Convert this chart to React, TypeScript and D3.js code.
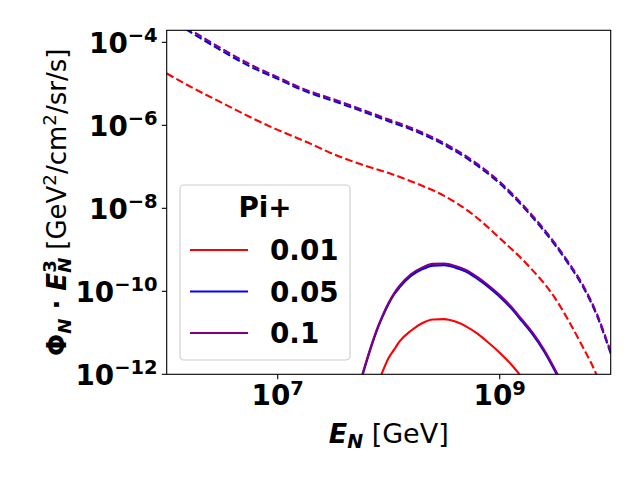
import * as d3 from "d3";

// log10 energies (GeV) and log10 fluxes
const dashedLogE = [6, 6.25, 6.5, 6.75, 7, 7.25, 7.5, 7.75, 8, 8.25, 8.5, 8.75, 9, 9.25, 9.5, 9.625, 9.75, 9.875, 10];
const dashedRed = [-4.75, -5.12, -5.46, -5.8, -6.11, -6.39, -6.69, -6.94, -7.15, -7.4, -7.7, -8.13, -8.72, -9.36, -10.17, -10.73, -11.35, -12.03, -13.0];
const dashedBlue = [-3.41, -3.81, -4.21, -4.58, -4.88, -5.18, -5.41, -5.65, -5.9, -6.15, -6.47, -6.88, -7.4, -8.08, -8.89, -9.36, -9.89, -10.58, -11.5];
const dashedPurple = [-3.36, -3.76, -4.16, -4.53, -4.84, -5.14, -5.37, -5.61, -5.86, -6.11, -6.43, -6.84, -7.36, -8.04, -8.85, -9.32, -9.85, -10.54, -11.46];

const solidLogE = [7.7, 7.75, 7.8, 7.85, 7.9, 7.95, 8.0, 8.05, 8.1, 8.2, 8.3, 8.4, 8.5, 8.6, 8.7, 8.8, 8.9, 9.0, 9.1, 9.2, 9.3, 9.4, 9.5, 9.6];
const solidRed = [-14.0, -13.4, -13.0, -12.6, -12.25, -11.9, -11.6, -11.4, -11.2, -10.95, -10.77, -10.68, -10.67, -10.73, -10.85, -11.02, -11.24, -11.48, -11.75, -12.07, -12.4, -12.8, -13.2, -13.6];
const solidBlue = [-12.6, -12.15, -11.7, -11.28, -10.9, -10.58, -10.3, -10.07, -9.9, -9.63, -9.47, -9.38, -9.37, -9.43, -9.53, -9.7, -9.9, -10.13, -10.4, -10.72, -11.05, -11.45, -11.93, -12.45];
const solidPurple = [-12.57, -12.12, -11.67, -11.25, -10.87, -10.55, -10.27, -10.04, -9.86, -9.59, -9.43, -9.34, -9.33, -9.39, -9.49, -9.66, -9.86, -10.09, -10.36, -10.68, -11.01, -11.41, -11.89, -12.41];

const legendLabels = ["0.01", "0.05", "0.1"];
const legendColors = ["#ff0000", "#0000ff", "#800080"];
const xTicks = [7, 9];
const yTicks = [-4, -6, -8, -10, -12];

const width = 640;
const height = 480;
const margin = { top: 30.3, right: 29.3, bottom: 105.7, left: 166.7 };
const font = "'DejaVu Sans', sans-serif";

export default function App() {
  const x = d3
    .scaleLog()
    .domain([1e6, 1e10])
    .range([margin.left, width - margin.right]);
  const y = d3
    .scaleLog()
    .domain([1e-12, Math.pow(10, -3.71)])
    .range([height - margin.bottom, margin.top]);

  const line = d3
    .line<[number, number]>()
    .x((d) => x(Math.pow(10, d[0])))
    .y((d) => y(Math.pow(10, d[1])))
    .curve(d3.curveMonotoneX);

  const pairs = (xs: number[], ys: number[]) => xs.map((v, i) => [v, ys[i]] as [number, number]);

  const dashed = [dashedRed, dashedBlue, dashedPurple];
  const solid = [solidRed, solidBlue, solidPurple];

  const x0 = margin.left;
  const x1 = width - margin.right;
  const y0 = margin.top;
  const y1 = height - margin.bottom;

  return (
    <svg
      width={width}
      height={height}
      style={{ position: "absolute", left: 0, top: 0, background: "white" }}
      fontFamily={font}
    >
      <defs>
        <clipPath id="plot-area">
          <rect x={x0} y={y0} width={x1 - x0} height={y1 - y0} />
        </clipPath>
      </defs>

      <g clipPath="url(#plot-area)">
        {legendColors.map((c, i) => (
          <g key={c}>
            <path
              d={line(pairs(solidLogE, solid[i])) ?? ""}
              fill="none"
              stroke={c}
              strokeWidth={2.1}
              strokeLinejoin="round"
            />
            <path
              d={line(pairs(dashedLogE, dashed[i])) ?? ""}
              fill="none"
              stroke={c}
              strokeWidth={2.1}
              strokeDasharray="7.7 3.3"
            />
          </g>
        ))}
      </g>

      <rect x={x0} y={y0} width={x1 - x0} height={y1 - y0} fill="none" stroke="black" strokeWidth={1.1} />

      {xTicks.map((t) => {
        const px = x(Math.pow(10, t));
        return (
          <g key={t}>
            <line x1={px} x2={px} y1={y1} y2={y1 + 4.9} stroke="black" strokeWidth={1.1} />
            <text x={px} y={y1 + 31} textAnchor="middle" fontWeight="bold" fontSize={27.8}>
              10
              <tspan fontSize={19.5} dy={-10}>
                {t}
              </tspan>
            </text>
          </g>
        );
      })}

      {yTicks.map((t) => {
        const py = y(Math.pow(10, t));
        return (
          <g key={t}>
            <line x1={x0 - 4.9} x2={x0} y1={py} y2={py} stroke="black" strokeWidth={1.1} />
            <text x={x0 - 9} y={py + 11} textAnchor="end" fontWeight="bold" fontSize={27.8}>
              10
              <tspan fontSize={19.5} dy={-11}>
                {"\u2212" + Math.abs(t)}
              </tspan>
            </text>
          </g>
        );
      })}

      {/* legend */}
      <rect x={180} y={185} width={170} height={175} rx={4} fill="white" fillOpacity={0.8} stroke="#cccccc" strokeWidth={1.1} />
      <text x={265} y={217} textAnchor="middle" fontWeight="bold" fontSize={27.8}>
        Pi+
      </text>
      {legendLabels.map((l, i) => (
        <g key={l}>
          <line x1={190} x2={248} y1={250 + i * 41.5} y2={250 + i * 41.5} stroke={legendColors[i]} strokeWidth={2.1} />
          <text x={270} y={260 + i * 41.5} fontWeight="bold" fontSize={27.8}>
            {l}
          </text>
        </g>
      ))}

      {/* x label */}
      <text x={(x0 + x1) / 2} y={443} textAnchor="middle" fontSize={27}>
        <tspan fontWeight="bold" fontStyle="italic">E</tspan>
        <tspan fontWeight="bold" fontStyle="italic" fontSize={19} dy={5}>N</tspan>
        <tspan dy={-5}> [GeV]</tspan>
      </text>

      {/* y label */}
      <text transform={`translate(66,${(y0 + y1) / 2}) rotate(-90)`} textAnchor="middle" fontSize={26}>
        <tspan fontWeight="bold">Φ</tspan>
        <tspan fontWeight="bold" fontStyle="italic" fontSize={18.2} dy={5}>N</tspan>
        <tspan fontWeight="bold" dy={-5}> · </tspan>
        <tspan fontWeight="bold" fontStyle="italic">E</tspan>
        <tspan fontWeight="bold" fontStyle="italic" fontSize={18.2} dy={5}>N</tspan>
        <tspan fontWeight="bold" fontSize={18.2} dx={-15} dy={-15}>3</tspan>
        <tspan dx={2} dy={10}> [GeV</tspan>
        <tspan fontSize={18.2} dy={-10}>2</tspan>
        <tspan dy={10}>/cm</tspan>
        <tspan fontSize={18.2} dy={-10}>2</tspan>
        <tspan dy={10}>/sr/s]</tspan>
      </text>
    </svg>
  );
}
